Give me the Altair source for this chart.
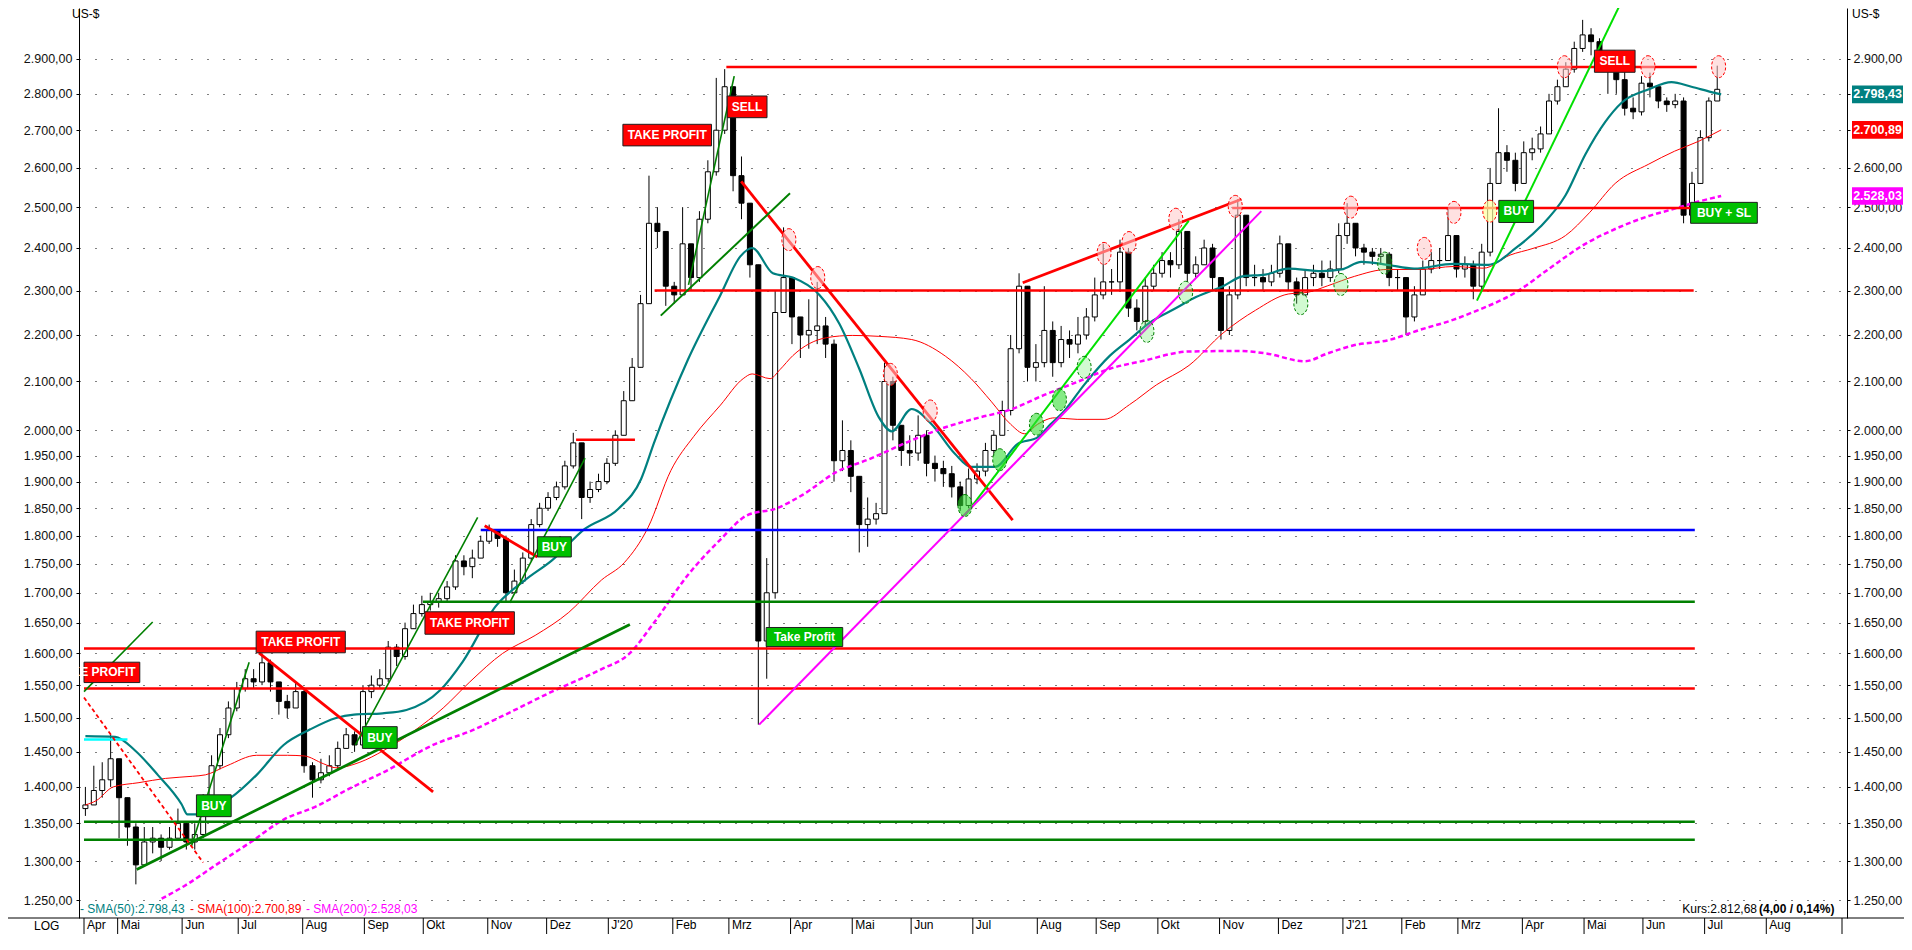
import json
import altair as alt
import pandas as pd
import numpy as np

START = "2019-04-15"          # trading day 0 (weekdays counted)

# ---------------- price data: one candle per 3 trading days -------------
close_ = [
    1375, 1395, 1410, 1440, 1385, 1345, 1295, 1325, 1330, 1318,
    1330, 1350, 1325, 1335, 1375, 1430, 1475, 1515, 1545, 1560,
    1555, 1585, 1555, 1525, 1515, 1540, 1430, 1410, 1420, 1430,
    1455, 1475, 1460, 1540, 1550, 1560, 1610, 1595, 1640, 1665,
    1680, 1685, 1690, 1710, 1755, 1745, 1760, 1790, 1810, 1795,
    1700, 1720, 1760, 1820, 1850, 1870, 1890, 1930, 1975, 1870,
    1885, 1900, 1935, 1990, 2060, 2130, 2270, 2460, 2440, 2310,
    2290, 2410, 2330, 2470, 2590, 2700, 2820, 2580, 2510, 2360,
    1620, 1700, 2250, 2330, 2240, 2200, 2210, 2220, 2180, 1940,
    1960, 1910, 1820, 1830, 1840, 2100, 2010, 1960, 1955, 1990,
    1935, 1925, 1915, 1890, 1855, 1905, 1920, 1960, 1990, 2040,
    2170, 2310, 2130, 2140, 2210, 2140, 2190, 2180, 2200, 2240,
    2290, 2320, 2320, 2390, 2260, 2230, 2310, 2340, 2370, 2360,
    2440, 2340, 2360, 2400, 2330, 2210, 2290, 2480, 2330, 2330,
    2320, 2340, 2410, 2320, 2290, 2330, 2340, 2330, 2350, 2430,
    2460, 2400, 2390, 2380, 2385, 2330, 2330, 2240, 2290, 2350,
    2370, 2370, 2430, 2350, 2360, 2310, 2390, 2560, 2640, 2620,
    2560, 2640, 2650, 2690, 2780, 2820, 2870, 2930, 2970, 2950,
    2900, 2870, 2840, 2760, 2750, 2830, 2820, 2780, 2770, 2780,
    2480, 2560, 2680, 2780, 2812.68,
]
high_ = [
    1400, 1430, 1435, 1475, 1420, 1380, 1350, 1345, 1345, 1335,
    1345, 1370, 1345, 1350, 1390, 1445, 1485, 1525, 1555, 1575,
    1575, 1600, 1590, 1555, 1535, 1555, 1545, 1435, 1440, 1445,
    1465, 1485, 1480, 1550, 1565, 1575, 1620, 1615, 1650, 1680,
    1695, 1700, 1700, 1720, 1765, 1765, 1775, 1800, 1820, 1810,
    1800, 1740, 1770, 1830, 1860, 1880, 1900, 1940, 1995, 1960,
    1900, 1915, 1945, 2000, 2080, 2150, 2290, 2580, 2500, 2420,
    2320, 2500, 2410, 2490, 2620, 2845, 2870, 2810, 2630, 2470,
    2360, 1760, 2300, 2450, 2320, 2240, 2280, 2320, 2240, 2190,
    2020, 1980, 1900, 1870, 1860, 2140, 2110, 2000, 1990, 2030,
    2000, 1950, 1940, 1930, 1900, 1925, 1935, 1975, 2000, 2060,
    2200, 2340, 2300, 2180, 2310, 2230, 2220, 2210, 2240, 2260,
    2330, 2410, 2350, 2420, 2400, 2280, 2330, 2360, 2390, 2390,
    2470, 2440, 2380, 2420, 2410, 2330, 2310, 2520, 2480, 2360,
    2350, 2360, 2430, 2410, 2330, 2350, 2360, 2370, 2370, 2460,
    2510, 2460, 2410, 2400, 2400, 2390, 2350, 2330, 2310, 2370,
    2390, 2400, 2500, 2430, 2380, 2370, 2410, 2600, 2760, 2660,
    2640, 2670, 2680, 2710, 2800, 2840, 2890, 2950, 3015, 2990,
    2960, 2920, 2880, 2870, 2790, 2850, 2860, 2820, 2790, 2800,
    2790, 2590, 2700, 2790, 2880,
]
low_ = [
    1360, 1380, 1385, 1400, 1330, 1320, 1270, 1300, 1310, 1300,
    1315, 1330, 1315, 1315, 1330, 1370, 1425, 1470, 1510, 1540,
    1545, 1550, 1540, 1505, 1500, 1520, 1420, 1385, 1405, 1415,
    1425, 1455, 1450, 1465, 1530, 1545, 1555, 1580, 1590, 1640,
    1660, 1670, 1675, 1685, 1705, 1730, 1725, 1760, 1785, 1780,
    1685, 1700, 1715, 1755, 1815, 1845, 1865, 1885, 1925, 1830,
    1860, 1880, 1895, 1930, 1990, 2060, 2130, 2270, 2400, 2265,
    2270, 2290, 2300, 2320, 2460, 2580, 2690, 2540, 2470, 2330,
    1490, 1560, 1690, 2280, 2180, 2150, 2170, 2180, 2150, 1900,
    1920, 1880, 1770, 1780, 1820, 1840, 1980, 1930, 1930, 1940,
    1910, 1900, 1890, 1870, 1845, 1850, 1895, 1910, 1950, 1990,
    2030, 2160, 2100, 2100, 2130, 2110, 2130, 2150, 2160, 2190,
    2230, 2280, 2290, 2300, 2240, 2210, 2220, 2300, 2330, 2330,
    2350, 2320, 2330, 2360, 2300, 2190, 2200, 2280, 2310, 2310,
    2300, 2310, 2330, 2300, 2270, 2300, 2310, 2310, 2320, 2340,
    2410, 2380, 2360, 2360, 2360, 2310, 2300, 2200, 2230, 2290,
    2340, 2350, 2380, 2330, 2330, 2280, 2300, 2380, 2560, 2590,
    2540, 2560, 2620, 2640, 2690, 2770, 2820, 2860, 2920, 2910,
    2880, 2800, 2800, 2740, 2730, 2740, 2790, 2760, 2750, 2760,
    2460, 2470, 2560, 2670, 2780,
]
first_open = 1370

# ---------------- moving averages ---------------
sma50_day = [0, 10.6, 17.7, 25.8, 34.3, 36.4, 39.9, 51.9, 61.1, 70.7, 80.2, 89.4, 95.8, 106, 114.5,
             126.5, 134.6, 146.3, 156.9, 166.4, 178.1, 190.1, 198.2, 202.8, 214.8, 226.5, 233.6,
             237.8, 245.2, 252.3, 261.8, 268.9, 276, 283, 287.6, 294.7, 301.8, 310.2, 315.9, 324.4,
             332.5, 339.6, 344.2, 349.1, 356.2, 365.4, 372.4, 379.5, 389, 396.1, 405.7, 412.7, 420.8,
             429, 441, 448, 455.1, 464.3, 473.9, 488, 500.4, 510.2, 518.7, 527.9, 535, 542, 548,
             557.6, 565.7, 572.8, 579.9, 583.4]
sma50_val = [1473, 1472, 1452, 1417, 1376, 1362, 1362, 1385, 1417, 1460, 1483, 1500, 1505, 1507, 1512,
             1542, 1587, 1677, 1722, 1756, 1812, 1849, 1905, 1975, 2145, 2290, 2380,
             2400, 2340, 2330, 2290, 2225, 2127, 2026, 1998, 2043, 2012, 1953, 1928, 1928,
             1973, 1986, 2012, 2039, 2093, 2155, 2190, 2227, 2260, 2285, 2310, 2333, 2337,
             2351, 2345, 2349, 2367, 2360, 2351, 2362, 2360, 2400, 2450, 2530, 2636, 2722, 2776,
             2813, 2833, 2820, 2805, 2798.43]
sma100_day = [0, 3.9, 9.9, 19.1, 28.6, 38.2, 42.8, 50.5, 61.1, 72.1, 78.1, 84.8, 89.4, 97.9, 106.4,
              117, 127.6, 137.1, 148.8, 160.4, 172.4, 184.1, 192.2, 200.7, 208.8, 217, 226.5, 234.6,
              237.8, 244.2, 247.7, 252.3, 264.3, 273.5, 283, 294.7, 306.7, 315.9, 323, 330, 335,
              339.6, 345.6, 353.7, 363.3, 372.4, 382, 393.6, 405.7, 417.3, 429, 436, 443.1, 452.7,
              464.3, 476.3, 488, 498.6, 508.1, 516.3, 527.9, 536.4, 545.6, 557.6, 566.8, 575.3, 583.4]
sma100_val = [1375, 1381, 1400, 1406, 1412, 1415, 1417, 1430, 1445, 1445, 1444, 1433, 1427, 1435, 1452,
              1480, 1515, 1555, 1600, 1629, 1667, 1722, 1752, 1815, 1921, 1988, 2051, 2106,
              2116, 2106, 2125, 2155, 2194, 2199, 2197, 2190, 2154, 2106, 2059, 2012, 1993,
              2012, 2025, 2022, 2022, 2052, 2093, 2134, 2204, 2255, 2292, 2296, 2311, 2333,
              2349, 2349, 2356, 2352, 2383, 2399, 2430, 2486, 2560, 2610, 2644, 2670, 2700.89]
sma200_day = [27.2, 35.3, 47, 59, 70.7, 82.3, 94.3, 106, 125.1, 137.1, 148.8, 166.4, 184.1, 193.6,
              202.8, 214.8, 226.5, 236, 246.6, 255.8, 267.8, 279.5, 294.7, 306.7, 318.4, 330, 342,
              353.7, 365.4, 377.4, 393.6, 411.3, 420.8, 435, 443.1, 452.7, 464.3, 476.3, 488, 495,
              510.2, 522.3, 534, 545.6, 557.6, 565.7, 575.3, 583.4]
sma200_val = [1252, 1268, 1296, 1325, 1355, 1373, 1398, 1420, 1462, 1480, 1503, 1540, 1575, 1598,
              1650, 1730, 1793, 1837, 1850, 1875, 1918, 1943, 1980, 2006, 2025, 2042, 2072,
              2099, 2127, 2144, 2164, 2165, 2160, 2143, 2160, 2178, 2188, 2212, 2234, 2251,
              2296, 2352, 2406, 2446, 2478, 2494, 2514, 2528.03]

# ---------------- drawn levels and trend lines (day, price) -------------
red_levels = [(228.6, 574.7, 2876), (409, 574, 2498), (203, 573.6, 2300),
              (-0.5, 574, 1608), (-0.5, 574, 1545), (175, 196, 1981)]
green_levels = [(120.4, 574, 1685), (-0.5, 574, 1352), (-0.5, 574, 1328)]
blue_levels = [(141, 574, 1810)]
cyan_levels = [(-0.5, 15, 1468)]
red_trends = [(61.9, 1601, 124, 1393), (142.4, 1818, 161.2, 1762),
              (233.9, 2565, 330.7, 1828), (334.3, 2318, 412.3, 2520)]
red_dashed_trends = [(-0.5, 1531, 42, 1298)]
green_thick_trends = [(18.3, 1289, 194.2, 1647)]
green_mid_trends = [(205.2, 2243, 251.3, 2535)]
green_thin_trends = [(-0.5, 1540, 24, 1651), (37.8, 1319, 58.4, 1586), (96.3, 1460, 139.9, 1833),
                     (151.3, 1683, 178.2, 1945), (215.1, 2313, 231.4, 2850)]
lime_trends = [(313.7, 1837, 393.5, 2466), (496.3, 2277, 550.6, 3120)]
magenta_trends = [(240.3, 1490, 419.4, 2490)]

# marked highs / lows
red_circle_day = [250.9, 261.2, 287.1, 301.3, 363.3, 372.2, 388.9, 410.1, 451.3, 477.5, 488.1, 527.5, 557.3, 582.5]
red_circle_val = [2420, 2330, 2115, 2039, 2387, 2413, 2470, 2502, 2500, 2399, 2487, 2877, 2877, 2877]
yellow_circle_day = [500.9]
yellow_circle_val = [2490]
green_strong_day = [313.7, 326.1, 339.2, 347.4]
green_strong_val = [1855, 1942, 2012, 2062]
green_light_day = [356.2, 378.6, 392.4, 433.5, 447.8, 463.4]
green_light_val = [2130, 2208, 2296, 2270, 2314, 2364]

# signal boxes: text, day from, day to, price top, price bottom, kind
signals = [
    ("TAKE PROFIT", 60.9, 92.7, 1636, 1601, "sell"),
    ("TAKE PROFIT", 121.1, 153.0, 1668, 1631, "sell"),
    ("BUY", 39.6, 52.0, 1389, 1359, "buy"),
    ("BUY", 98.8, 111.2, 1487, 1455, "buy"),
    ("BUY", 161.2, 173.3, 1798, 1762, "buy"),
    ("TAKE PROFIT", 191.7, 223.3, 2716, 2658, "sell"),
    ("SELL", 228.9, 243.1, 2794, 2734, "sell"),
    ("Take Profit", 242.8, 270.1, 1642, 1611, "buy"),
    ("BUY", 504.1, 516.5, 2517, 2462, "buy"),
    ("SELL", 538.2, 552.7, 2925, 2861, "sell"),
    ("BUY + SL", 572.5, 596.3, 2512, 2460, "buy"),
]
cut_signal = ("TAKE PROFIT", -0.5, 19.4, 1586, 1554, "sell", 17.9)

last_values = [2798.43, 2700.89, 2528.03]
last_labels = ["2.798,43", "2.700,89", "2.528,03"]
last_colors = ["#008080", "#ff0000", "#ff00ff"]

y_ticks = list(range(1250, 2001, 50)) + list(range(2100, 2901, 100))
month_labels = ["Apr", "Mai", "Jun", "Jul", "Aug", "Sep", "Okt", "Nov", "Dez", "J'20", "Feb", "Mrz",
                "Apr", "Mai", "Jun", "Jul", "Aug", "Sep", "Okt", "Nov", "Dez", "J'21", "Feb", "Mrz",
                "Apr", "Mai", "Jun", "Jul", "Aug"]

# ---------------- build tables ----------------
n = min(len(close_), len(high_), len(low_))
close_, high_, low_ = close_[:n], high_[:n], low_[:n]
open_ = [first_open] + close_[:-1]
cdf = pd.DataFrame({"day": [3 * i for i in range(n)], "open": open_, "close": close_,
                    "high": high_, "low": low_})
cdf["high"] = cdf[["high", "open", "close"]].max(axis=1)
cdf["low"] = cdf[["low", "open", "close"]].min(axis=1)

month_starts = pd.date_range("2019-05-01", "2021-08-01", freq="MS")
month_pos = [-0.5] + [float(np.busday_count(START, d.strftime("%Y-%m-%d"))) - 0.5 for d in month_starts]
mdf = pd.DataFrame({"t": month_pos, "label": month_labels})
sep_df = pd.DataFrame({"t": month_pos + [626.5]})
de_expr = "replace(replace(replace(format(datum.value, ',.2f'), ',', '#'), '.', ','), '#', '.')"

W, H = 1768, 910
xs = alt.Scale(domain=[-0.5, 626.5], nice=False, zero=False)
ys = alt.Scale(type="log", domain=[1228, 3051], nice=False, zero=False)
FONT = "Liberation Sans, Arial, sans-serif"

y_left = alt.Axis(orient="left", values=y_ticks, labelExpr=de_expr, tickSize=3, tickColor="black",
                  domainColor="black", domainWidth=1, labelPadding=4, labelFontSize=12.5,
                  labelColor="#111111", labelFont=FONT, grid=True, gridColor="black",
                  gridDash=[1, 15], gridWidth=1, gridOpacity=1, labelOverlap=False,
                  labelBound=False, labelFlush=False, title=None)
y_right = alt.Axis(orient="right", values=y_ticks, labelExpr=de_expr, tickSize=3, tickColor="black",
                   domainColor="black", domainWidth=1, labelPadding=3, labelFontSize=12.5,
                   labelColor="#111111", labelFont=FONT, grid=False, labelOverlap=False,
                   labelBound=False, labelFlush=False, title=None)


def X(f):
    return alt.X(f, type="quantitative", scale=xs, axis=None, title=None)


def Y(f, axis=None):
    return alt.Y(f, type="quantitative", scale=ys, axis=axis, title=None)


layers = []
# candles
layers.append(alt.Chart(cdf).mark_rule(color="black", strokeWidth=1).encode(
    x=X("day"), y=Y("low", y_left), y2="high:Q"))
layers.append(alt.Chart(cdf).mark_bar(size=5, stroke="black", strokeWidth=1).encode(
    x=X("day"), y=Y("open"), y2="close:Q",
    fill=alt.condition("datum.close >= datum.open", alt.value("white"), alt.value("black"))))

# moving averages
s100 = pd.DataFrame({"day": sma100_day, "v": sma100_val})
s50 = pd.DataFrame({"day": sma50_day, "v": sma50_val})
s200 = pd.DataFrame({"day": sma200_day, "v": sma200_val})
layers.append(alt.Chart(s100).mark_line(color="#ff0000", strokeWidth=1, interpolate="monotone").encode(
    x=X("day"), y=Y("v")))
layers.append(alt.Chart(s50).mark_line(color="#008080", strokeWidth=2.2, interpolate="monotone").encode(
    x=X("day"), y=Y("v")))
layers.append(alt.Chart(s200).mark_line(color="#ff00ff", strokeWidth=2.5, strokeDash=[5, 3],
                                        interpolate="monotone").encode(x=X("day"), y=Y("v", y_right)))

# levels and trend lines
rows = []
def add(segs, color, width, horizontal=False):
    for s in segs:
        if horizontal:
            rows.append({"x1": s[0], "x2": s[1], "v1": s[2], "v2": s[2], "color": color, "w": width})
        else:
            rows.append({"x1": s[0], "x2": s[2], "v1": s[1], "v2": s[3], "color": color, "w": width})

add(red_levels, "#ff0000", 2.5, True)
add(green_levels, "#008000", 2.5, True)
add(blue_levels, "#0000ff", 2.5, True)
add(cyan_levels, "#00ffff", 2.5, True)
add(red_trends, "#ff0000", 2.8)
add(green_thick_trends, "#008000", 2.8)
add(green_mid_trends, "#008000", 2)
add(green_thin_trends, "#008000", 1.6)
add(lime_trends, "#00e000", 2)
add(magenta_trends, "#ff00ff", 2)
seg = pd.DataFrame(rows)
layers.append(alt.Chart(seg).mark_rule(clip=True).encode(
    x=X("x1"), x2="x2:Q", y=Y("v1"), y2="v2:Q",
    color=alt.Color("color:N", scale=None), strokeWidth=alt.StrokeWidth("w:Q", scale=None)))
rd = pd.DataFrame([{"x1": s[0], "x2": s[2], "v1": s[1], "v2": s[3]} for s in red_dashed_trends])
layers.append(alt.Chart(rd).mark_rule(clip=True, color="#ff0000", strokeWidth=1.8, strokeDash=[4, 3]).encode(
    x=X("x1"), x2="x2:Q", y=Y("v1"), y2="v2:Q"))

# circles
ELL = "M0,-1A0.64,1 0 1,1 0,1A0.64,1 0 1,1 0,-1Z"
def circles(days, vals, fill, fop, stroke):
    d = pd.DataFrame({"day": days, "v": vals})
    return alt.Chart(d).mark_point(shape=ELL, size=484, filled=True, fill=fill, fillOpacity=fop,
                                   stroke=stroke, strokeWidth=1, strokeDash=[3, 2], strokeOpacity=1,
                                   opacity=1).encode(x=X("day"), y=Y("v"))
layers.append(circles(red_circle_day, red_circle_val, "#ffc8c8", 0.55, "#ff0000"))
layers.append(circles(yellow_circle_day, yellow_circle_val, "#ffffa0", 0.7, "#ff0000"))
layers.append(circles(green_strong_day, green_strong_val, "#33dd33", 0.6, "#008000"))
layers.append(circles(green_light_day, green_light_val, "#66ee66", 0.3, "#008000"))

# signal boxes
sig = pd.DataFrame(signals, columns=["text", "x1", "x2", "top", "bot", "kind"])
sig["cx"] = (sig["x1"] + sig["x2"]) / 2
sig["cy"] = np.sqrt(sig["top"] * sig["bot"])
kind_scale = alt.Scale(domain=["sell", "buy"], range=["#ff0000", "#00c000"])
layers.append(alt.Chart(sig).mark_rect(stroke="#202020", strokeWidth=1).encode(
    x=X("x1"), x2="x2:Q", y=Y("top"), y2="bot:Q", fill=alt.Fill("kind:N", scale=kind_scale, legend=None)))
layers.append(alt.Chart(sig).mark_text(color="white", fontWeight="bold", fontSize=12, font=FONT,
                                       align="center", baseline="middle").encode(
    x=X("cx"), y=Y("cy"), text="text:N"))
cut = pd.DataFrame([{"text": cut_signal[0], "x1": cut_signal[1], "x2": cut_signal[2],
                     "top": cut_signal[3], "bot": cut_signal[4], "tx": cut_signal[6],
                     "cy": float(np.sqrt(cut_signal[3] * cut_signal[4]))}])
layers.append(alt.Chart(cut).mark_rect(clip=True, fill="#ff0000", stroke="#202020", strokeWidth=1).encode(
    x=X("x1"), x2="x2:Q", y=Y("top"), y2="bot:Q"))
layers.append(alt.Chart(cut).mark_text(clip=True, color="white", fontWeight="bold", fontSize=12, font=FONT,
                                       align="right", baseline="middle").encode(
    x=X("tx"), y=Y("cy"), text="text:N"))

# current values at the right axis
lv = pd.DataFrame({"v": last_values, "t": last_labels, "c": last_colors})
lv["hi"] = lv["v"] * np.exp(0.0088)
lv["lo"] = lv["v"] * np.exp(-0.0088)
layers.append(alt.Chart(lv).mark_rect().encode(
    x=alt.value(W + 5), x2=alt.value(W + 56), y=Y("hi"), y2="lo:Q",
    fill=alt.Color("c:N", scale=None)))
layers.append(alt.Chart(lv).mark_text(color="white", fontWeight="bold", fontSize=12.5, font=FONT,
                                      align="center", baseline="middle").encode(
    x=alt.value(W + 30.5), y=Y("v"), text="t:N"))

# month band under the plot
layers.append(alt.Chart(sep_df).mark_rule(color="black", strokeWidth=1).encode(
    x=X("t"), y=alt.value(H), y2=alt.value(H + 17)))
layers.append(alt.Chart(mdf).mark_text(align="left", baseline="top", dx=3, fontSize=12, font=FONT,
                                       color="black").encode(
    x=X("t"), y=alt.value(H + 2), text="label:N"))

# decorations
one = pd.DataFrame({"a": [0]})
def txt(s, x, y, color="black", align="left", baseline="middle", size=12, weight="normal"):
    return alt.Chart(one).mark_text(text=s, color=color, align=align, baseline=baseline,
                                    fontSize=size, fontWeight=weight, font=FONT).encode(
        x=alt.value(x), y=alt.value(y))
layers.append(txt("US-$", -7, 1, baseline="top"))
layers.append(txt("US-$", W + 5, 1, baseline="top"))
layers.append(txt("LOG", -45, H + 8))
layers.append(txt("- SMA(50):2.798,43", 1, H - 9, color="#008080"))
layers.append(txt("- SMA(100):2.700,89", 111, H - 9, color="#ff0000"))
layers.append(txt("- SMA(200):2.528,03", 227, H - 9, color="#ff00ff"))
layers.append(txt("Kurs:2.812,68", 1678, H - 9, align="right"))
layers.append(txt("(4,00 / 0,14%)", 1680, H - 9, weight="bold"))
layers.append(alt.Chart(one).mark_rule(color="black", strokeWidth=1).encode(
    x=alt.value(-71), x2=alt.value(W + 57), y=alt.value(H)))

chart = alt.layer(*layers).properties(
    width=W, height=H,
    autosize=alt.AutoSizeParams(type="none"),
    padding={"left": 71, "top": 0, "right": 57, "bottom": 16},
    background="white",
).resolve_scale(y="independent").configure_view(strokeWidth=0)

chart.save("out.html", embed_options={"renderer": "svg", "actions": False})
